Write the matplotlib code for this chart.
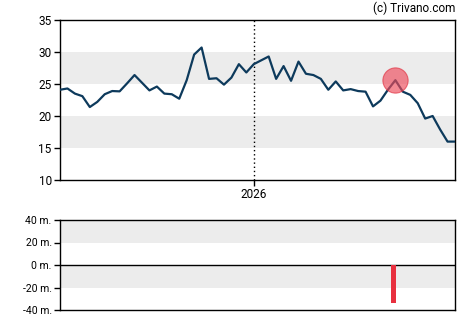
import matplotlib.pyplot as plt
import numpy as np

# weekly closing prices
prices = [24.1, 24.3, 23.5, 23.1, 21.4, 22.2, 23.4, 23.9, 23.85, 25.1,
          26.4, 25.2, 24.0, 24.6, 23.5, 23.4, 22.7, 25.6, 29.6, 30.7,
          25.8, 25.9, 24.9, 26.0, 28.1, 26.8, 28.1, 28.7, 29.3, 25.8,
          27.8, 25.5, 28.5, 26.6, 26.4, 25.8, 24.1, 25.4, 24.0, 24.2,
          23.9, 23.8, 21.5, 22.4, 24.1, 25.6, 23.8, 23.3, 22.0, 19.6,
          20.0, 17.9, 16.0, 16.0]
year_idx = 26
year_label = "2026"
marker_idx = 45
marker_price = 25.6

# insider volume bar (millions)
bar_pos = [44.7]
bar_vals = [-33.5]

plt.rcParams['font.family'] = ['Roboto', 'DejaVu Sans']

fig = plt.figure(figsize=(4.7, 3.25), dpi=100)
ax = fig.add_axes([60/470, 1-180/325, 395/470, 160/325])
ax2 = fig.add_axes([60/470, 1-310/325, 395/470, 90/325])

band = '#ececec'
x = np.arange(len(prices))

# top panel
for lo, hi in [(15, 20), (25, 30)]:
    ax.axhspan(lo, hi, color=band, lw=0, zorder=0)
ax.axvline(year_idx, color='black', ls=(0, (1, 2)), lw=1, zorder=1)
ax.plot(x, prices, color='#0d3a5c', lw=1.6, zorder=3)
ax.scatter([marker_idx], [marker_price], s=330, color='#ee4a5a', alpha=0.65,
           edgecolors='#e03040', linewidths=0.8, zorder=4)
ax.set_xlim(0, len(prices) - 1)
ax.set_ylim(10, 35)
ax.set_yticks([10, 15, 20, 25, 30, 35])
ax.set_xticks([year_idx])
ax.set_xticklabels([year_label])
ax.tick_params(labelsize=8.5, length=4, width=1, pad=2)

# bottom panel
for lo, hi in [(20, 40), (-20, 0)]:
    ax2.axhspan(lo, hi, color=band, lw=0, zorder=0)
ax2.axhline(0, color='black', lw=1, zorder=2)
ax2.bar(bar_pos, bar_vals, width=0.65, color='#e8303f', zorder=3)
ax2.set_xlim(0, len(prices) - 1)
ax2.set_ylim(-40, 40)
ax2.set_yticks([-40, -20, 0, 20, 40])
ax2.set_yticklabels(['-40 m.', '-20 m.', '0 m.', '20 m.', '40 m.'])
ax2.set_xticks([])
ax2.tick_params(labelsize=7.5, length=4, width=1, pad=2)

for a in (ax, ax2):
    for s in a.spines.values():
        s.set_linewidth(1)

fig.text(455/470, 1-8/325, '(c) Trivano.com', ha='right', va='center', fontsize=8.5)

fig.savefig('out.png', dpi=100)
